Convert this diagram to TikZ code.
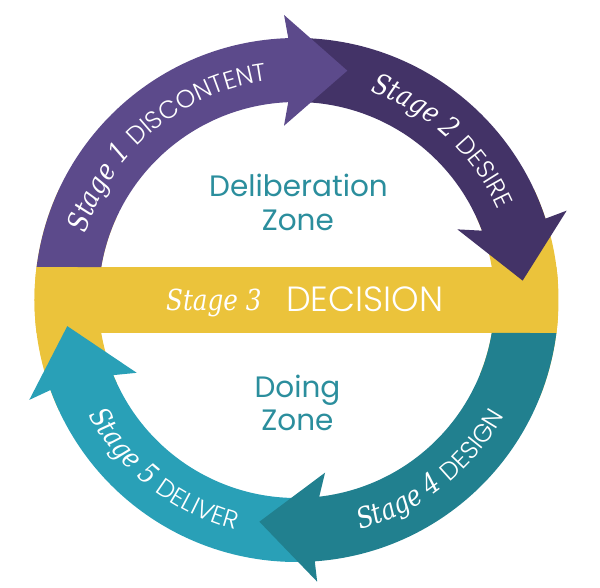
\documentclass[tikz,border=0pt]{standalone}
\usepackage{fontspec}
\usetikzlibrary{decorations.text}
\IfFontExistsTF{Poppins Light}{\newfontfamily\capfam{Poppins Light}}{\newfontfamily\capfam{Poppins}}
\newfontfamily\zonefam{Poppins}
\newfontfamily\stagefam{DejaVu Serif}[FakeStretch=0.85]
\newcommand\stgf{\stagefam\itshape\fontsize{28.5}{28.5}\selectfont}
\newcommand\capf{\capfam\fontsize{25}{25}\selectfont}
\definecolor{pA}{HTML}{5C4A8B}
\definecolor{pB}{HTML}{433367}
\definecolor{yel}{HTML}{EBC33B}
\definecolor{tA}{HTML}{21808F}
\definecolor{tB}{HTML}{29A0B7}
\definecolor{zonec}{HTML}{2B8E9D}
\tikzset{
  arclabel/.style={decorate, decoration={text along path, text align=center, text color=white, text={#1}}},
  zonetext/.style={anchor=base, inner sep=0pt, text=zonec, font=\zonefam\fontsize{29.5}{29.5}\selectfont},
}
\begin{document}
\begin{tikzpicture}[x=1pt,y=1pt]
\useasboundingbox (-296.5,-288) rectangle (303.5,300);
% yellow ring parts and band
\fill[yel] (-22:262) arc[start angle=-22, end angle=25, radius=262pt] -- (25:198) arc[start angle=25, end angle=-22, radius=198pt] -- cycle;
\fill[yel] (155:262) arc[start angle=155, end angle=205, radius=262pt] -- (205:198) arc[start angle=205, end angle=155, radius=198pt] -- cycle;
\begin{scope}
\clip (0,0) circle[radius=262pt];
\fill[yel] (-262,-33) rectangle (262,33);
\end{scope}
% stage 2
\fill[pB] (90:262) arc[start angle=90, end angle=18.1, radius=262pt] -- (18.3:284.6) -- (4.9:227) -- (23.7:175.7) -- (20.5:198) arc[start angle=20.5, end angle=90, radius=198pt] -- cycle;
% stage 1
\fill[pA] (172.76:262) arc[start angle=172.76, end angle=91.8, radius=262pt] -- (92.5:285.3) -- (77.5:234.9) -- (94.1:174.7) -- (92.4:198) arc[start angle=92.4, end angle=170.41, radius=198pt] -- cycle;
% stage 5
\fill[tB] (272:262) arc[start angle=272, end angle=200.1, radius=262pt] -- (200.5:285.3) -- (186.5:230.7) -- (204.5:175.6) -- (202.3:198) arc[start angle=202.3, end angle=272, radius=198pt] -- cycle;
% stage 4
\fill[tA] (-7.24:262) arc[start angle=-7.24, end angle=-86, radius=262pt] -- (-85.8:282.5) -- (-99.5:224.8) -- (-80.6:175) -- (-83.4:198) arc[start angle=-83.4, end angle=-9.59, radius=198pt] -- cycle;
% arc labels
\path[arclabel={|\stgf|Stage 1 |\capf|DISCONTENT}] (178:221) arc[start angle=178, end angle=82, radius=221pt];
\path[arclabel={|\stgf|Stage 2 |\capf|DESIRE}] (92.4:221) arc[start angle=92.4, end angle=2.4, radius=221pt];
\path[arclabel={|\stgf|Stage 4 |\capf|DESIGN}] (-96.85:238) arc[start angle=-96.85, end angle=-6.85, radius=238pt];
\path[arclabel={|\stgf|Stage 5 |\capf|DELIVER}] (187:238) arc[start angle=187, end angle=277, radius=238pt];
% band text
\node[anchor=base east, inner sep=0pt, text=white, font=\stagefam\itshape\fontsize{29}{29}\selectfont] (s3) at (-34.8,-10.5) {Stage 3};
\node[anchor=base west, inner sep=0pt, text=white, font=\capfam\fontsize{35}{35}\selectfont] (dec) at (-10.5,-11.5) {DECISION};
% zones
\node[zonetext] (dz1) at (2,103.3) {Deliberation};
\node[zonetext] (dz2) at (1.4,69.3) {Zone};
\node[zonetext] (oz1) at (1,-97.3) {Doing};
\node[zonetext] (oz2) at (1,-130.7) {Zone};
\end{tikzpicture}
\end{document}
